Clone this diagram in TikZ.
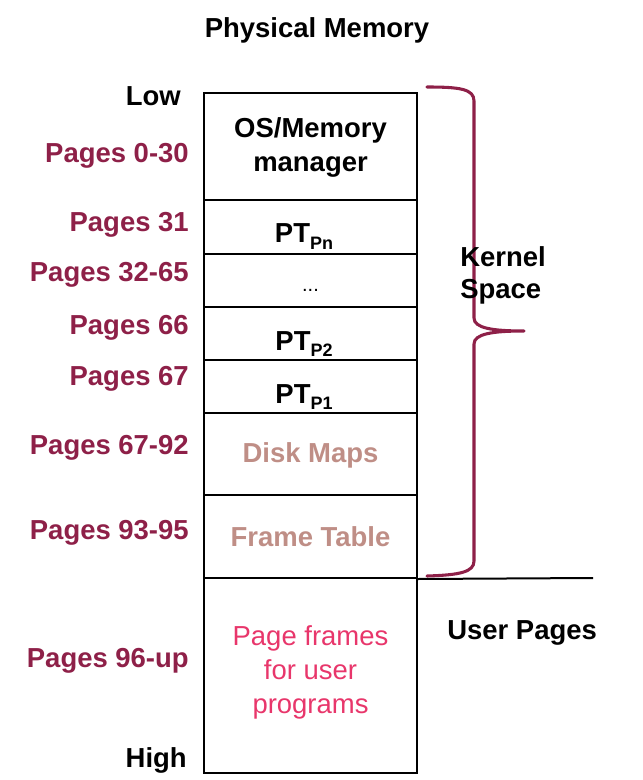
\documentclass[tikz,border=0pt]{standalone}
\usepackage{fontspec}
\setmainfont{Liberation Sans}
\definecolor{crimson}{HTML}{8E2048}
\definecolor{tan}{HTML}{BF8E86}
\definecolor{pinkred}{HTML}{E8366B}
\newcommand{\PTsub}[1]{PT{\fontsize{13.5}{16}\selectfont\raisebox{-5pt}{#1}}}
\begin{document}
\begin{tikzpicture}[x=0.75pt,y=-0.75pt,
  row/.style={draw=black, line width=1.5pt, minimum width={213*0.75pt}, inner sep=0pt},
  intxt/.style={anchor=base, inner sep=0pt, font=\fontsize{20.6}{25}\selectfont\bfseries},
  lbl/.style={anchor=east, inner sep=0pt, text=crimson, font=\fontsize{20.6}{25}\selectfont\bfseries},
  blk/.style={inner sep=0pt, text=black, font=\fontsize{20.6}{25}\selectfont\bfseries},
  brace/.style={draw=crimson, line width=2.3pt, line cap=round, line join=round}]
\useasboundingbox (0,0) rectangle (642,780);
% rows
\node[row, minimum height={107*0.75pt}] (r1) at (310.5,146.5) {};
\node[row, minimum height={54*0.75pt}] (r2) at (310.5,227) {};
\node[row, minimum height={53*0.75pt}] (r3) at (310.5,280.5) {};
\node[row, minimum height={53*0.75pt}] (r4) at (310.5,333.5) {};
\node[row, minimum height={53*0.75pt}] (r5) at (310.5,386.5) {};
\node[row, minimum height={82*0.75pt}] (r6) at (310.5,454) {};
\node[row, minimum height={83*0.75pt}] (r7) at (310.5,536.5) {};
\node[row, minimum height={195*0.75pt}] (r8) at (310.5,675.5) {};
% row texts
\node[intxt] (t1a) at (310.5,138) {OS/Memory};
\node[intxt] (t1b) at (310.5,172) {manager};
\node[intxt] (t2) at (304,243) {\PTsub{Pn}};
\node[intxt, font=\fontsize{15}{18}\selectfont] (t3) at (310.5,291) {...};
\node[intxt] (t4) at (304,350) {\PTsub{P2}};
\node[intxt] (t5) at (304,403) {\PTsub{P1}};
\node[intxt, text=tan] (t6) at (310.5,462) {Disk Maps};
\node[intxt, text=tan] (t7) at (310.5,546) {Frame Table};
\node[intxt, text=pinkred, font=\fontsize{20.6}{25}\selectfont] (t8a) at (310.5,645) {Page frames};
\node[intxt, text=pinkred, font=\fontsize{20.6}{25}\selectfont] (t8b) at (310.5,679) {for user};
\node[intxt, text=pinkred, font=\fontsize{20.6}{25}\selectfont] (t8c) at (310.5,713) {programs};
% title and left labels
\node[blk] (title) at (317,30) {Physical Memory};
\node[blk, anchor=east] (low) at (181,96) {Low};
\node[lbl] (l1) at (189,156) {Pages 0-30};
\node[lbl] (l2) at (189,225) {Pages 31};
\node[lbl] (l3) at (189,275) {Pages 32-65};
\node[lbl] (l4) at (189,328) {Pages 66};
\node[lbl] (l5) at (189,379) {Pages 67};
\node[lbl] (l6) at (189,448) {Pages 67-92};
\node[lbl] (l7) at (189,533) {Pages 93-95};
\node[lbl] (l8) at (189,661) {Pages 96-up};
\node[blk, anchor=east] (high) at (187,760) {High};
% right side
\coordinate (sepend) at (593,578);
\draw[line width=1.5pt] (r7.south east) -- (sepend);
\draw[brace] (427,87) .. controls (460,87) and (474,89) .. (474,101) -- (474,318) .. controls (474,328) and (492,331) .. (524,331) .. controls (492,331) and (474,334) .. (474,344) -- (474,561) .. controls (474,572) and (460,575) .. (427,576);
\node[blk, anchor=west, align=left] (kernel) at (460,275) {Kernel\\[-1pt]Space};
\node[blk, anchor=west] (user) at (447,633) {User Pages};
\end{tikzpicture}
\end{document}
